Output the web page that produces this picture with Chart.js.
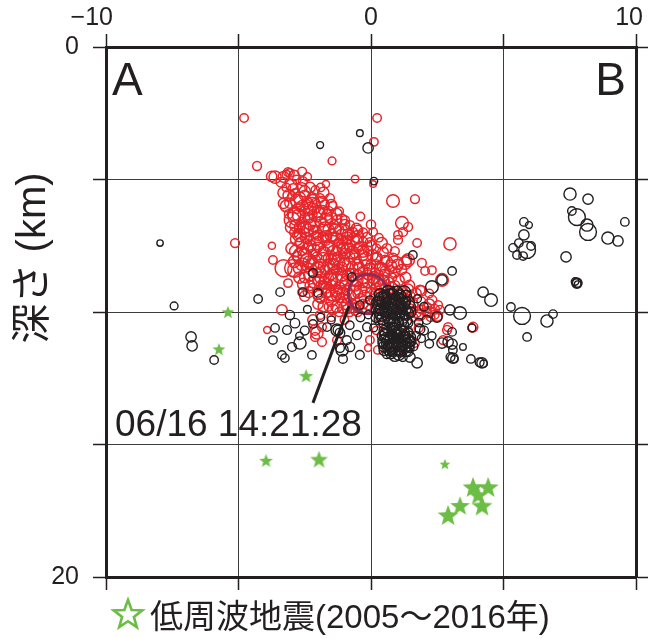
<!DOCTYPE html>
<html><head><meta charset="utf-8">
<script src="https://cdn.jsdelivr.net/npm/chart.js@4.4.1/dist/chart.umd.min.js"></script>
<style>html,body{margin:0;padding:0;background:#fff;}#wrap{width:648px;height:639px;}</style>
</head><body><div id="wrap"><canvas id="c" width="648" height="639"></canvas></div>
<script>
// ---- data (x: distance along A-B [km], y: depth [km], m: magnitude) ----
const xRange = [-10, 10];
const depthRange = [0, 20];
const xTickLabels = {'-10': '−10', '0': '0', '10': '10'};
const yTickLabels = {'0': '0', '20': '20'};
const panelLabels = ['A', 'B'];
const yTitle = '深さ (km)';
const mainShockLabel = '06/16 14:21:28';
const legendLabel = '低周波地震(2005～2016年)';

const mainShock = [[-0.11, 9.32, 5.3]];

const redEvents = [
[-4.79,2.68,1.5],[0.23,2.68,1.5],[0.11,3.58,1.5],[-1.47,4.30,1.3],[-4.30,4.49,1.6],[-3.62,4.91,2.4],[-3.75,4.88,2.0],
[-3.13,4.72,1.6],[-2.57,5.06,1.6],[-1.70,5.17,1.1],[-0.60,4.98,1.2],[0.08,5.17,0.9],[0.83,5.81,2.5],[1.66,5.74,1.6],
[-5.13,7.40,1.6],[-3.74,7.50,1.1],[-2.75,7.09,1.1],
[-3.06,4.75,1.5],[-3.2,4.8,1.4],[-2.94,5.36,2.0],[-2.98,5.62,1.5],[-2.87,5.51,1.5],[-3.06,5.89,2.0],[-2.68,6.04,1.6],
[-2.23,5.66,1.6],[-1.92,5.70,1.6],[-1.55,5.70,1.6],[-2.19,6.04,1.6],[-1.81,6.15,1.6],[-2.98,6.53,3.0],[-2.49,6.45,1.8],
[-2.04,6.42,1.8],[-1.66,6.34,2.0],[-1.28,6.53,1.8],[-0.98,6.53,1.6],[-0.79,6.72,1.6],[-0.49,6.91,1.8],[0.08,6.98,1.5],
[1.17,6.64,2.5],[1.40,6.79,1.6],[1.21,6.98,1.6],[1.02,7.28,1.6],[1.74,7.40,1.5],[-2.19,6.91,1.8],[-1.81,7.17,2.0],
[-1.43,7.17,1.8],[-1.06,7.28,1.8],[-0.30,7.36,1.8],[-0.04,7.36,1.6],[-2.00,7.55,1.8],[-1.55,7.55,1.8],[-0.91,7.58,2.0],
[-0.49,7.58,1.8],[-2.38,8.04,2.8],[-2.04,7.92,1.8],[-1.62,7.96,1.8],[-1.25,7.92,1.8],[-0.79,7.92,1.8],[-0.30,7.85,2.0],
[0.23,7.92,1.8],[0.53,8.04,1.8],[0.83,7.96,1.8],[1.28,8.15,2.5],[1.92,8.15,1.6],[2.04,8.45,1.5],[-2.87,8.42,2.8],
[-2.19,8.53,1.8],[-1.74,8.42,1.8],[-1.30,8.42,1.8],[-0.79,8.53,1.8],[-0.30,8.45,1.8],[0.15,8.53,1.8],[0.53,8.45,1.8],
[2.68,8.79,2.5],[2.30,9.55,1.8],[2.53,9.74,1.6],
[-2.6,5.3,1.8],[-2.4,5.9,2.2],[-2.1,5.4,1.5],[-1.75,5.95,1.7],[-1.45,6.0,1.6],[-2.7,6.8,2.0],[-2.3,7.3,1.9],[-1.6,6.9,2.2],
[-1.2,6.9,1.7],[-0.8,7.1,1.9],[-0.6,7.3,1.6],[-2.6,7.7,1.7],[-1.9,8.2,2.0],[-1.4,8.2,2.2],[-1.0,8.1,1.8],[-0.5,8.2,2.0],
[0.0,8.2,1.7],[0.4,8.3,1.6],[-2.5,8.7,2.0],[-2.0,8.8,2.1],[-1.6,8.7,1.8],[-1.1,8.8,2.3],[-0.7,8.8,2.0],[-0.3,8.9,1.9],
[0.1,8.9,2.0],[0.5,8.8,1.8],[0.8,8.7,1.6],[-2.2,9.1,1.8],[-1.7,9.1,2.0],[-1.3,9.2,2.2],[-0.9,9.2,1.9],[-0.5,9.3,1.8],
[0.3,9.3,1.8],[0.7,9.2,1.6],[-1.9,9.5,1.6],[-1.5,9.6,2.0],[-1.1,9.6,1.8],[-0.7,9.7,1.7],[-0.3,9.7,1.8],[-1.2,10.0,1.6],
[-0.8,10.0,1.6],
[-3.70,8.04,1.5],[-3.13,8.91,1.5],[-2.94,8.34,3.2],[-2.60,9.25,1.5],[-2.23,8.04,1.5],[-2.00,8.53,1.5],[-1.81,8.98,1.5],
[-1.17,9.47,1.7],[-1.36,8.42,1.5],[1.02,7.09,1.5],[2.98,7.43,2.4],[1.36,8.04,1.8],[2.30,8.42,1.5],[1.85,9.17,1.8],
[2.11,9.81,1.6],[2.60,9.92,1.6],[-3.36,9.92,2.0],[-2.19,10.30,2.0],[-2.11,10.68,2.0],[-1.85,10.57,1.6],[-2.11,10.94,1.6],
[-1.28,11.06,1.6],[-0.11,11.36,1.0],[-0.04,11.06,1.5],[1.66,11.17,1.5],[0.26,11.43,1.5],[2.87,10.68,1.6],[2.72,11.06,1.6],
[-3.92,10.68,1.0],[-2.04,10.79,2.4],[-1.85,11.13,1.6],[-1.92,10.11,1.6],
[1.5,10.0,1.8],[1.8,10.1,1.8],[2.1,10.0,1.8],[2.4,10.1,1.6],[1.9,9.9,1.6],[2.25,10.2,1.5],[1.6,10.2,1.5],
[1.40,8.04,2.5],[2.91,10.57,1.6],[3.85,10.57,1.8],[3.81,10.60,1.4],
[0.5,9.7,2.0],[0.9,9.5,2.2],[1.3,9.6,2.0],[0.3,10.2,1.8],[0.6,10.6,1.8],[1.4,10.7,1.6],[1.0,11.0,1.6],[0.2,10.7,1.4],
[1.8,10.6,1.6],[1.2,11.4,1.4],[0.7,11.3,1.4],
[-2.8,6.1,1.7],[-2.5,6.2,1.9],[-2.2,6.3,1.6],[-1.9,6.6,2.0],[-2.6,6.6,1.8],[-2.3,6.7,2.1],[-1.4,6.7,1.7],[-2.9,7.0,1.6],
[-2.5,7.0,1.8],[-2.0,7.1,2.0],[-1.7,7.3,1.8],[-1.2,7.4,1.9],[-0.9,7.3,1.6],[-2.7,7.4,1.7],[-2.4,7.6,2.2],[-1.8,7.7,1.9],
[-1.3,7.7,1.8],[-1.0,7.8,2.0],[-0.6,7.8,1.7],[-0.1,7.7,1.8],[-2.8,7.9,1.8],[-2.2,7.8,1.6],[-1.5,8.0,2.0],[-1.1,8.3,1.9],
[-0.7,8.3,2.1],[-0.2,8.2,1.6],[0.2,8.2,1.7],[-2.4,8.3,1.8],[-1.9,8.5,2.0],[-1.5,8.6,1.9],[-0.9,8.6,1.7],[-0.5,8.6,2.0],
[-0.1,8.6,1.9],[0.3,8.6,1.6],[0.7,8.4,1.7],[-2.3,9.0,1.9],[-1.9,9.0,1.7],[-1.5,9.0,2.1],[-1.0,9.0,1.8],[-0.6,9.0,2.2],
[-0.2,9.1,1.8],[0.2,9.1,1.9],[0.5,9.1,1.7],[0.9,9.0,1.8],[1.2,9.2,1.7],[-1.7,9.3,1.8],[-1.3,9.4,1.9],[-0.9,9.5,1.6],
[-0.4,9.5,2.0],[0.1,9.5,1.8],[0.6,9.4,1.9],[1.0,9.3,1.7],[1.5,9.4,1.6],[-1.6,9.8,1.6],[-0.9,9.9,1.7],[-0.5,10.0,1.6],
[0.0,9.9,1.9],[1.2,9.9,1.8],[1.6,9.7,1.7],[-1.0,10.3,1.5],[-1.5,10.2,1.5],[1.9,9.6,1.6],[2.2,9.3,1.5],[-2.1,5.9,1.8],
[-1.6,6.2,1.8],[-1.2,6.2,1.5],[-0.4,6.4,1.5],[0.0,6.7,1.7],[-0.3,7.0,1.6],[0.3,7.2,1.5],[0.6,7.6,1.8],[0.9,7.7,1.6],
[0.2,7.6,1.6],[-3.1,6.3,1.6],[-3.2,5.3,1.5],[-2.8,5.0,1.5],[-2.4,4.9,1.4],[-1.9,5.3,1.5],
[-3.3,5.5,2.2],[-2.7,5.7,2.4],[-2.3,5.3,2.0],[-1.8,5.5,2.2],
[-3.2,6.0,2.3],[-2.9,6.3,2.6],[-2.6,6.0,2.2],[-2.3,6.1,2.5],[-2.0,6.2,2.3],[-1.7,6.5,2.4],[-1.3,6.3,2.2],[-1.0,6.7,2.0],
[-3.0,6.8,2.4],[-2.7,7.1,2.6],[-2.4,6.9,2.3],[-2.1,7.0,2.5],[-1.8,6.9,2.2],[-1.5,7.1,2.4],[-1.1,7.1,2.3],[-0.7,7.0,2.0],
[-3.0,7.6,2.2],[-2.6,7.4,2.5],[-2.3,7.5,2.3],[-2.0,7.4,2.6],[-1.6,7.5,2.4],[-1.2,7.6,2.5],[-0.8,7.5,2.2],[-0.4,7.6,2.3],
[0.0,7.5,2.0],[0.4,7.4,2.2],
[-2.9,8.1,2.3],[-2.6,8.2,2.5],[-2.2,8.2,2.4],[-1.8,8.0,2.6],[-1.4,8.0,2.3],[-1.0,8.2,2.5],[-0.6,8.0,2.4],[-0.2,8.0,2.6],
[0.2,8.0,2.3],[0.6,8.1,2.2],[1.0,8.2,2.0],
[-2.7,8.7,2.2],[-2.3,8.6,2.5],[-1.9,8.7,2.3],[-1.5,8.8,2.6],[-1.1,8.6,2.4],[-0.7,8.6,2.5],[-0.3,8.7,2.3],[0.1,8.7,2.4],
[0.5,8.6,2.2],[0.9,8.5,2.0],[1.3,8.7,2.1],
[-2.5,9.4,2.0],[-2.0,9.3,2.3],[-1.6,9.2,2.5],[-1.2,9.1,2.4],[-0.8,9.4,2.3],[-0.4,9.2,2.5],[0.0,9.3,2.2],[0.4,9.0,2.4],
[0.8,9.1,2.2],[1.2,9.5,2.0],[1.7,9.3,2.0],
[-1.8,9.8,2.0],[-1.3,9.8,2.2],[-0.9,9.7,2.3],[-0.5,9.8,2.0],[-0.1,9.7,2.2],[1.7,10.0,2.2],[2.2,9.7,2.0],[2.4,9.9,1.8],
[-3.4,5.1,1.8],[-3.0,5.2,2.2],[-2.5,5.6,2.0],[-2.6,4.7,1.6],
[-2.75,6.35,2.3],[-2.35,6.45,2.1],[-1.95,6.3,2.4],[-1.5,6.45,2.2],[-1.1,6.5,2.0],
[-2.85,6.75,2.2],[-2.5,6.8,2.5],[-2.15,6.75,2.3],[-1.75,6.85,2.6],[-1.35,6.9,2.4],[-0.95,6.95,2.2],[-0.55,6.85,2.0],
[-2.8,7.25,2.5],[-2.45,7.2,2.2],[-2.1,7.25,2.6],[-1.7,7.15,2.3],[-1.3,7.25,2.5],[-0.9,7.2,2.3],[-0.5,7.15,2.4],[-0.15,7.2,2.1],
[-2.85,7.7,2.3],[-2.5,7.85,2.6],[-2.15,7.65,2.4],[-1.75,7.8,2.5],[-1.4,7.75,2.7],[-1.05,7.65,2.3],[-0.7,7.75,2.5],
[-0.3,7.7,2.4],[0.05,7.85,2.2],[0.45,7.75,2.1],
[-2.7,8.35,2.4],[-2.35,8.1,2.2],[-2.0,8.35,2.6],[-1.6,8.25,2.4],[-1.25,8.1,2.7],[-0.85,8.2,2.5],[-0.45,8.35,2.3],
[-0.05,8.4,2.5],[0.35,8.35,2.4],[0.75,8.25,2.2],[1.15,8.4,2.0],
[-2.55,8.95,2.3],[-2.15,8.85,2.5],[-1.75,8.9,2.4],[-1.35,8.75,2.7],[-0.95,8.9,2.5],[-0.55,8.8,2.6],[-0.15,8.85,2.4],
[0.25,8.8,2.5],[0.65,8.9,2.3],[1.05,8.8,2.1],[1.45,9.0,2.0],
[-2.35,9.25,2.1],[-1.95,9.4,2.3],[-1.5,9.35,2.5],[-1.05,9.3,2.4],[-0.65,9.25,2.6],[-0.25,9.4,2.3],[0.2,9.35,2.4],
[0.6,9.25,2.2],[1.4,9.15,2.1],[1.9,9.2,2.0],
[-2.0,9.7,2.0],[-1.45,9.9,2.1],[-1.0,9.85,2.3],[-0.6,9.9,2.2],[-0.2,9.85,2.1],[1.45,9.9,2.2],[1.85,10.1,2.3],[2.2,10.0,2.2],
[2.5,10.15,2.0],
[-3.1,5.6,2.3],[-2.8,5.8,2.5],[-2.5,5.45,2.2],[-2.2,5.8,2.4],[-1.85,5.85,2.2],[-1.5,5.95,2.0],[-3.3,5.9,2.0],
[-3.3,4.9,2.1],[-2.9,4.85,2.0],
[-2.8,6.4,3.3],[-1.0,7.5,3.0],[-1.9,8.4,3.0],[0.4,8.9,3.0],[-1.4,9.3,3.0],
[-2.6,7.9,3.4],[-1.2,8.8,3.3],[0.9,8.2,3.2],[-3.3,8.35,3.2],[-2.2,6.0,3.2],[0.55,9.6,3.2],[-0.6,7.4,3.1]
];

const blackEvents = [
[-0.42,3.25,0.9],[-1.92,3.70,1.0],[-0.11,3.81,2.0],[0.11,5.06,1.2],[-7.96,7.40,0.8],[-7.43,9.77,1.3],[-6.79,10.94,2.0],
[-6.75,11.28,2.0],[-5.92,11.81,1.5],[-4.26,9.51,1.5],[-3.43,9.25,1.5],[-2.00,9.28,1.5],[-2.57,9.25,1.5],[-2.19,8.53,1.5],
[-0.72,8.68,1.5],[-0.42,9.74,1.5],[-0.04,9.55,1.5],[1.58,7.85,1.5],[3.06,8.45,1.5],[2.68,8.79,2.0],[2.30,9.06,2.5],
[2.98,9.92,2.0],[3.36,10.04,2.5],[2.49,10.19,2.0],[4.23,9.25,2.0],[4.53,9.55,2.5],[3.06,10.75,1.5],[2.91,11.13,2.0],
[3.09,11.43,1.5],[3.09,11.74,2.0],[3.0,11.70,1.6],[3.15,11.78,1.2],[3.47,11.32,0.9],[3.77,11.77,1.5],[4.19,11.92,2.0],
[4.10,11.90,1.6],[4.25,11.95,1.2],[3.81,10.60,1.3],
[7.51,5.55,2.4],[8.19,5.74,2.0],[7.58,6.19,1.5],[7.77,6.42,3.2],[8.15,6.72,2.4],[8.19,6.98,3.2],[8.94,7.21,2.4],
[9.32,7.32,2.0],[9.58,6.60,1.5],[5.77,6.60,1.5],[5.96,6.72,1.0],[5.77,7.09,2.0],[5.58,7.40,1.5],[5.36,7.58,1.5],
[5.89,7.66,3.2],[6.04,7.51,1.5],[5.51,7.85,1.5],[5.74,7.89,1.5],[7.36,7.92,2.0],[7.77,8.91,2.0],[7.77,8.91,1.6],
[7.70,8.85,1.2],[7.80,8.95,0.9],[5.28,9.81,1.5],[5.70,10.15,3.2],[6.64,10.34,2.4],[6.87,10.08,1.5],[5.89,10.94,1.5],
[-3.62,10.60,1.5],[-3.06,10.11,1.7],[-2.87,10.42,1.8],[-3.17,10.68,1.6],[-3.36,11.62,1.5],[-3.25,11.74,1.5],[-2.98,11.32,1.6],
[-2.68,11.17,2.4],[-2.23,11.62,1.5],[-2.19,10.45,1.5],[-1.66,10.57,1.5],[-1.25,10.68,1.8],[-1.17,11.36,1.6],[-1.06,11.77,1.6],
[-3.70,11.06,1.5],[-1.28,10.68,2.4],[-1.17,10.79,1.8],[-0.91,11.06,1.6],[-0.53,10.87,1.7],[-0.79,11.32,1.7],[-1.09,11.43,2.4],
[-0.42,11.62,1.6],[-0.15,10.57,1.6],[1.47,11.70,2.0],[1.74,11.92,2.0],[2.68,11.17,2.0],[3.06,11.21,2.0],
[-2.4,9.9,1.3],[-1.9,10.2,1.4],[-2.5,10.7,1.6],[-2.7,10.9,1.2],[-1.5,10.3,1.3],[-0.8,10.5,1.5],[-0.4,10.2,1.6],
[0.3,9.6,2.0],[0.5,9.4,2.2],[0.8,9.3,2.0],[1.1,9.4,2.4],[1.3,9.6,2.0],[0.4,9.9,2.4],[0.7,9.7,2.6],[1.0,9.7,2.8],
[1.3,9.9,2.2],[0.6,10.1,2.2],[0.9,10.0,2.6],[1.2,10.2,2.4],[0.3,10.3,1.8],[0.7,10.4,2.0],[1.0,10.4,2.2],[1.4,10.4,1.8],
[0.5,9.8,1.8],[0.85,9.55,1.6],[1.15,9.85,1.8],[0.75,10.25,1.7],[1.5,10.0,2.0],[0.2,9.9,1.8],[1.0,9.2,1.6],[0.6,9.5,1.5],
[1.25,10.1,1.6],[0.95,10.15,1.5],
[0.5,10.7,2.0],[0.8,10.6,2.2],[1.1,10.7,2.4],[1.4,10.8,2.0],[0.6,11.0,2.4],[0.9,10.9,2.6],[1.2,11.0,2.8],[1.5,11.1,2.0],
[0.7,11.3,2.2],[1.0,11.2,2.4],[1.3,11.3,2.2],[0.8,11.5,1.8],[1.1,11.5,2.0],[1.4,11.5,1.8],[0.45,11.2,1.8],[0.95,10.75,1.6],
[1.25,10.9,1.6],[0.75,10.85,1.5],[1.6,11.3,1.6],[0.6,11.6,1.5],[1.2,11.7,1.6],[1.7,10.9,1.5],[0.4,10.9,1.6],[1.05,11.05,1.5],
[1.8,10.4,1.5],[2.0,10.7,1.6],[1.9,11.0,1.4],[2.2,11.2,1.5],[1.75,9.5,1.4],[2.0,9.8,1.5],[-0.1,10.1,1.4],[0.1,10.6,1.3],
[2.1,10.3,1.6],[1.85,10.65,1.8],[2.3,10.9,1.4],
[0.4,9.5,2.6],[0.7,9.4,2.8],[1.0,9.5,2.6],[1.3,9.4,2.3],[0.3,9.8,2.5],[0.6,9.9,2.8],[0.9,9.8,3.0],[1.2,9.7,2.7],
[1.45,9.8,2.4],[0.4,10.1,2.6],[0.7,10.2,2.7],[1.0,10.1,2.9],[1.3,10.3,2.5],[0.5,10.4,2.3],[0.85,10.45,2.4],[1.2,10.5,2.3],
[0.55,9.65,2.0],[0.8,9.85,2.2],[1.1,10.0,2.0],[0.65,10.0,1.8],[0.95,9.9,1.9],
[0.6,10.8,2.6],[0.9,10.7,2.8],[1.2,10.8,2.7],[0.5,11.1,2.5],[0.8,11.1,2.9],[1.1,11.2,2.8],[1.4,11.1,2.5],[0.7,11.4,2.6],
[1.0,11.4,2.7],[1.3,11.45,2.4],[0.9,11.65,2.2],[1.15,11.3,2.0],[0.85,10.95,2.1],[1.0,10.85,1.9],[0.65,11.25,1.9],
[1.3,10.95,2.0],[0.5,11.45,2.0],[1.45,11.35,1.8],
[0.35,9.35,2.4],[0.65,9.25,2.6],[0.95,9.3,2.8],[1.25,9.25,2.5],[0.25,9.65,2.3],[0.5,9.55,2.7],[0.8,9.6,2.9],[1.1,9.6,2.8],
[1.4,9.65,2.5],[0.35,10.0,2.6],[0.7,9.95,2.9],[1.05,9.95,3.0],[1.35,10.05,2.6],[0.45,10.25,2.4],[0.8,10.3,2.6],
[1.15,10.3,2.5],[0.2,10.2,2.0],
[0.55,10.9,2.5],[0.85,10.8,2.7],[1.15,10.9,2.8],[1.45,10.95,2.4],[0.65,11.15,2.7],[0.95,11.1,3.0],[1.25,11.15,2.8],
[0.8,11.35,2.6],[1.1,11.35,2.7],[1.4,11.25,2.3],[0.75,11.55,2.2],[1.05,11.6,2.3],[0.5,11.3,2.2]
];

// low-frequency earthquakes 2005-2016
const lfeEvents = [
[-5.40,10.0,0.8],[-5.74,11.4,0.8],[-2.45,12.4,1.0],[-3.96,15.6,0.9],[-1.96,15.55,1.5],[2.79,15.74,0.5],
[3.85,16.6,2.0],[4.42,16.6,2.0],[4.04,16.9,1.8],[4.19,17.3,2.0],[3.36,17.3,1.8],[2.91,17.66,2.0]
];

const labelLeader = [[-2.19, 13.43], [-0.83, 9.77]];

// ---- styling ----
const RED = '#e7262b', BLACK = '#231f20', GREEN = '#6cbd45', MAIN = '#8e2c55';
const FONT = '"Liberation Sans", Arial, "Noto Sans CJK JP", sans-serif';
const quakeRadius = m => 2.3 * Math.pow(1.5, m);
const starRadius = m => 4 + 3.5 * m;

const starCache = {};
function starPath(ctx, cx, cy, R, r) {
  ctx.beginPath();
  for (let i = 0; i < 10; i++) {
    const a = -Math.PI / 2 + i * Math.PI / 5;
    const rr = i % 2 === 0 ? R : r;
    const px = cx + rr * Math.cos(a), py = cy + rr * Math.sin(a);
    if (i === 0) ctx.moveTo(px, py); else ctx.lineTo(px, py);
  }
  ctx.closePath();
}
function starImage(R) {
  const key = R.toFixed(1);
  if (starCache[key]) return starCache[key];
  const c = document.createElement('canvas');
  const s = Math.ceil(2 * R + 4);
  c.width = s; c.height = s;
  const g = c.getContext('2d');
  starPath(g, s / 2, s / 2 + R * 0.1, R, R * 0.42);
  g.fillStyle = GREEN; g.fill();
  starCache[key] = c;
  return c;
}

const toPts = arr => arr.map(p => ({x: p[0], y: p[1], m: p[2]}));

const textPlugin = {
  id: 'texts',
  afterDraw(chart) {
    const ctx = chart.ctx, a = chart.chartArea;
    ctx.save();
    ctx.fillStyle = BLACK;
    ctx.font = '46px ' + FONT;
    ctx.textBaseline = 'alphabetic';
    ctx.textAlign = 'left';
    ctx.fillText(panelLabels[0], a.left + 6, a.top + 48);
    ctx.textAlign = 'right';
    ctx.fillText(panelLabels[1], a.right - 10, a.top + 48);
    // main shock label
    ctx.textAlign = 'left';
    ctx.font = '37px ' + FONT;
    ctx.fillText(mainShockLabel, 115, 436);
    // y title
    ctx.save();
    ctx.translate(34, 258);
    ctx.rotate(-Math.PI / 2);
    ctx.textAlign = 'center';
    ctx.textBaseline = 'middle';
    ctx.font = '40px ' + FONT;
    ctx.fillText(yTitle, 0, 0);
    ctx.restore();
    // legend
    ctx.strokeStyle = GREEN;
    ctx.lineWidth = 2.6;
    ctx.lineJoin = 'miter';
    starPath(ctx, 128, 615, 15, 6.2);
    ctx.stroke();
    ctx.fillStyle = BLACK;
    ctx.font = '33px ' + FONT;
    ctx.textAlign = 'left';
    ctx.textBaseline = 'alphabetic';
    ctx.fillText(legendLabel, 150, 628);
    ctx.restore();
  }
};

const gridCommon = {color: '#3c3c3c', lineWidth: 1, tickLength: 13, tickColor: BLACK, tickWidth: 1.5};
const borderCommon = {display: true, color: BLACK, width: 3};

new Chart(document.getElementById('c'), {
  type: 'scatter',
  data: {
    datasets: [
      {label: 'red', data: toPts(redEvents), order: 5, borderColor: RED, backgroundColor: 'rgba(0,0,0,0)',
       borderWidth: 1.5, pointRadius: c => quakeRadius(c.raw.m)},
      {label: 'main', data: toPts(mainShock), order: 4, borderColor: MAIN, backgroundColor: 'rgba(0,0,0,0)',
       borderWidth: 3, pointRadius: c => quakeRadius(c.raw.m)},
      {label: 'black', data: toPts(blackEvents), order: 3, borderColor: BLACK, backgroundColor: 'rgba(0,0,0,0)',
       borderWidth: 1.4, pointRadius: c => quakeRadius(c.raw.m)},
      {label: 'lfe', data: toPts(lfeEvents), order: 2,
       pointStyle: c => starImage(starRadius(c.raw ? c.raw.m : 1)), pointRadius: c => starRadius(c.raw ? c.raw.m : 1)},
      {type: 'line', label: 'leader', data: labelLeader.map(p => ({x: p[0], y: p[1]})), order: 1,
       borderColor: BLACK, borderWidth: 3, pointRadius: 0, showLine: true, fill: false}
    ]
  },
  options: {
    responsive: false, animation: false, events: [], devicePixelRatio: 1,
    layout: {padding: 0, autoPadding: false},
    plugins: {legend: {display: false}, tooltip: {enabled: false}},
    scales: {
      x: {type: 'linear', position: 'top', min: xRange[0], max: xRange[1],
          ticks: {stepSize: 5, autoSkip: false, maxRotation: 0, align: 'end', labelOffset: 7, padding: 1,
                  color: BLACK, font: {family: FONT, size: 25},
                  callback: v => xTickLabels[String(v)] || ''},
          grid: gridCommon, border: borderCommon,
          afterFit: s => { s.height = 47; }},
      x2: {type: 'linear', position: 'bottom', min: xRange[0], max: xRange[1],
           ticks: {stepSize: 5, callback: () => ''},
           grid: Object.assign({}, gridCommon, {drawOnChartArea: false}), border: borderCommon,
           afterFit: s => { s.height = 62; }},
      y: {type: 'linear', position: 'left', reverse: true, min: depthRange[0], max: depthRange[1],
          ticks: {stepSize: 5, autoSkip: false, padding: 14, color: BLACK, font: {family: FONT, size: 25},
                  callback: v => yTickLabels[String(v)] || ''},
          grid: gridCommon, border: borderCommon,
          afterFit: s => { s.width = 106; }},
      y2: {type: 'linear', position: 'right', reverse: true, min: depthRange[0], max: depthRange[1],
           ticks: {stepSize: 5, callback: () => ''},
           grid: Object.assign({}, gridCommon, {drawOnChartArea: false}), border: borderCommon,
           afterFit: s => { s.width = 12; }}
    }
  },
  plugins: [textPlugin]
});
</script>
</body></html>
